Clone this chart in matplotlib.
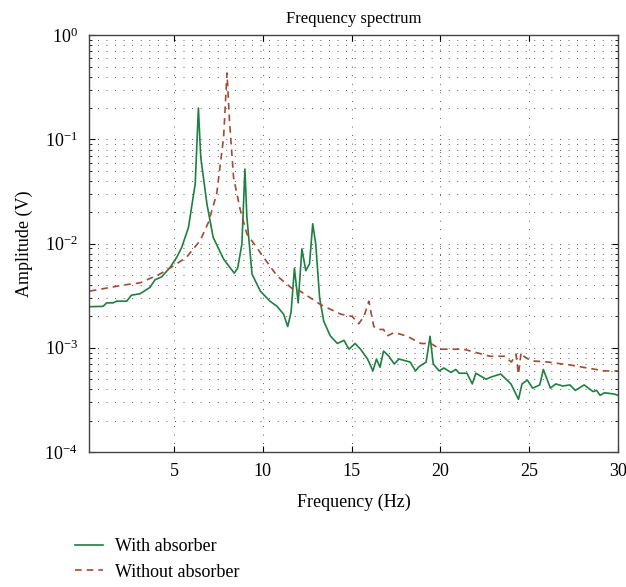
import matplotlib
matplotlib.use('Agg')
import matplotlib.pyplot as plt
from matplotlib.ticker import LogLocator, NullFormatter, FixedLocator

plt.rcParams['font.family'] = ['Liberation Serif', 'DejaVu Serif']
plt.rcParams['mathtext.fontset'] = 'custom'
plt.rcParams['mathtext.rm'] = 'Liberation Serif'

# with absorber (green, solid)
freq_with = [0.25, 1.0, 1.2, 1.57, 1.76, 2.33, 2.6, 3.08, 3.64, 3.93, 4.3, 4.77,
             5.15, 5.43, 5.81, 6.19, 6.37, 6.5, 6.85, 7.2, 7.79, 8.39, 8.58, 8.82,
             8.99, 9.1, 9.39, 9.86, 10.4, 10.8, 11.17, 11.4, 11.59, 11.78, 11.99,
             12.2, 12.42, 12.63, 12.81, 12.98, 13.2, 13.43, 13.8, 14.2, 14.57, 14.85,
             15.2, 15.5, 15.9, 16.2, 16.4, 16.6, 16.8, 17.1, 17.4, 17.67, 18.3, 18.6,
             18.8, 19.2, 19.42, 19.6, 19.93, 20.2, 20.6, 20.87, 21.06, 21.5, 21.8,
             22.0, 22.57, 22.94, 23.4, 23.98, 24.4, 24.6, 24.9, 25.2, 25.6, 25.8,
             26.2, 26.5, 26.9, 27.3, 27.6, 28.1, 28.6, 28.8, 29.0, 29.25, 29.8, 30.0]
amp_with = [0.00248, 0.0025, 0.0027, 0.0027, 0.0028, 0.0028, 0.0032, 0.0033, 0.0038,
            0.0045, 0.0048, 0.0059, 0.0074, 0.0092, 0.0143, 0.0375, 0.2, 0.068,
            0.024, 0.0115, 0.0071, 0.0052, 0.0058, 0.0099, 0.052, 0.018, 0.0051,
            0.0035, 0.0028, 0.0025, 0.0021, 0.0016, 0.0022, 0.0058, 0.0027, 0.0089,
            0.0055, 0.0064, 0.0155, 0.0099, 0.0030, 0.0018, 0.0013, 0.0011, 0.00118,
            0.00097, 0.0011, 0.00097, 0.00078, 0.00060, 0.00078, 0.00065, 0.00093,
            0.00083, 0.00070, 0.00078, 0.00073, 0.00060, 0.00066, 0.00073, 0.00129,
            0.00070, 0.00060, 0.00064, 0.00058, 0.00062, 0.00057, 0.00057, 0.00045,
            0.00057, 0.00050, 0.00053, 0.00056, 0.00045, 0.00032, 0.00045, 0.00049,
            0.00041, 0.00044, 0.00062, 0.00041, 0.00045, 0.00043, 0.00044, 0.00039,
            0.00044, 0.00038, 0.00039, 0.00035, 0.00037, 0.00036, 0.00035]

# without absorber (red, dashed)
freq_without = [0.25, 2.14, 3.08, 4.2, 4.96, 5.7, 6.47, 6.94, 7.4, 7.79, 7.98, 8.12,
                8.35, 8.73, 9.1, 10.04, 10.8, 11.74, 12.1, 13.25, 14.4, 15.03, 15.4,
                15.7, 15.97, 16.25, 16.5, 16.8, 17.0, 17.4, 18.1, 18.9, 19.46, 20.0,
                21.3, 22.8, 23.6, 24.0, 24.26, 24.4, 24.55, 24.7, 25.1, 26.05, 27.4,
                28.5, 29.25, 30.0]
amp_without = [0.0035, 0.0040, 0.0042, 0.0051, 0.0061, 0.0074, 0.0107, 0.0161, 0.030,
               0.105, 0.434, 0.152, 0.043, 0.021, 0.0124, 0.0074, 0.0049, 0.0036,
               0.0035, 0.0026, 0.0021, 0.0020, 0.0017, 0.0020, 0.0028, 0.0016, 0.0015,
               0.0015, 0.0013, 0.0014, 0.0013, 0.0011, 0.0011, 0.00097, 0.00097,
               0.00083, 0.00083, 0.00073, 0.00087, 0.00056, 0.00090, 0.00083, 0.00075,
               0.00073, 0.00068, 0.00063, 0.00060, 0.00060]

x_ticks = [5, 10, 15, 20, 25, 30]

fig = plt.figure(figsize=(6.26, 5.87), dpi=100)
ax = fig.add_axes([0.142, 0.230, 0.845, 0.710])

l1, = ax.semilogy(freq_with, amp_with, '-', color='#1e8040', lw=1.2, label='With absorber')
l2, = ax.semilogy(freq_without, amp_without, '--', color='#a34a33', lw=1.2,
                  dashes=(4, 3), label='Without absorber')

ax.set_xlim(0.2, 30)
ax.set_ylim(1e-4, 1)
ax.xaxis.set_major_locator(FixedLocator(x_ticks))
ax.yaxis.set_major_locator(LogLocator(base=10, numticks=10))
ax.yaxis.set_minor_locator(LogLocator(base=10, subs=range(2, 10), numticks=20))
ax.yaxis.set_minor_formatter(NullFormatter())

grid_style = dict(color='#333333', linestyle=(0, (0.8, 8)), linewidth=0.7)
ax.grid(True, which='major', axis='both', **grid_style)
ax.grid(True, which='minor', axis='y', **grid_style)

ax.tick_params(which='both', direction='in', top=True, right=True, labelsize=13)
ax.tick_params(axis='y', pad=8)
ax.tick_params(axis='x', pad=8)
ax.tick_params(which='major', length=4)
ax.tick_params(which='minor', length=2)
for s in ax.spines.values():
    s.set_color('#444444')
    s.set_linewidth(1.0)

ax.set_title('Frequency spectrum', fontsize=12, pad=9)
ax.set_xlabel('Frequency (Hz)', fontsize=13, labelpad=10)
ax.set_ylabel('Amplitude (V)', fontsize=13, labelpad=8)

fig.legend(handles=[l1, l2], loc='upper left', bbox_to_anchor=(0.108, 0.095),
           frameon=False, fontsize=13, handlelength=1.55, handletextpad=0.65,
           labelspacing=0.45, borderaxespad=0)

fig.savefig('out.png', dpi=100, facecolor='white')
